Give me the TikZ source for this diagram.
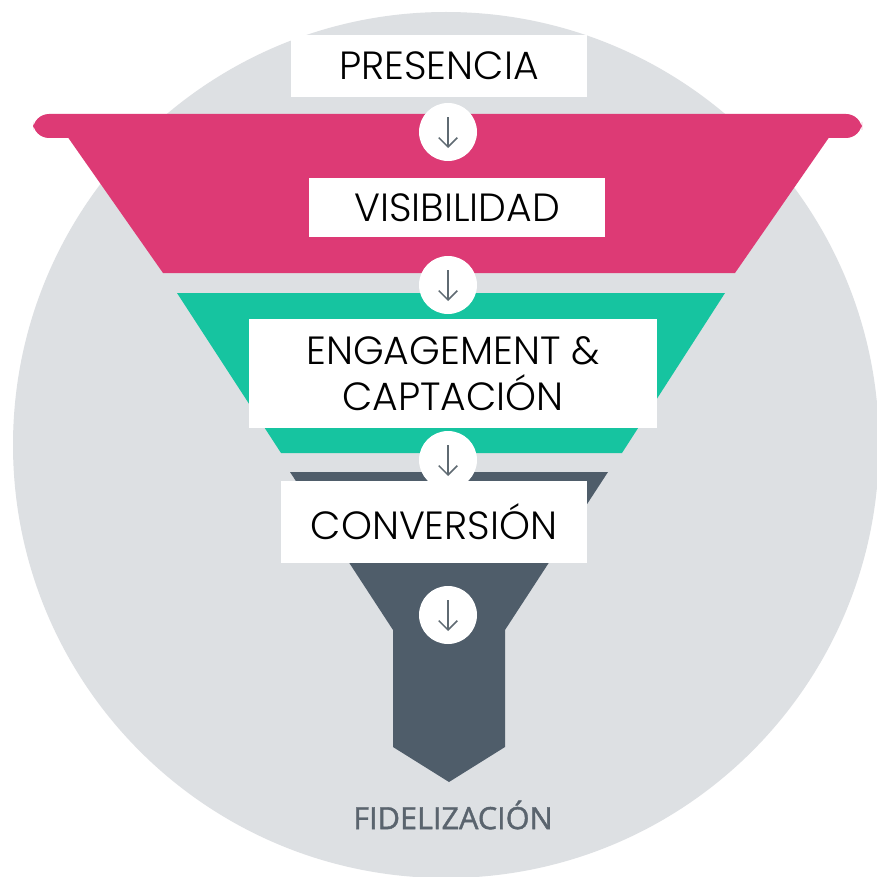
\documentclass[tikz,border=0pt]{standalone}
\usepackage{fontspec}
\setmainfont{Poppins}[UprightFont = * Light]
\newfontfamily\fidfont{Open Sans}[FakeBold=1.3]
\usetikzlibrary{arrows.meta}

\definecolor{fondo}{RGB}{221,224,227}
\definecolor{rosa}{RGB}{221,58,117}
\definecolor{verde}{RGB}{22,196,160}
\definecolor{pizarra}{RGB}{79,93,106}
\definecolor{flechagris}{RGB}{95,106,114}
\definecolor{textogris}{RGB}{90,100,110}

\tikzset{
  etapa/.style={fill=white, inner sep=0pt, align=center, font=\fontsize{29.5}{34.5}\selectfont},
  paso/.style={circle, fill=white, inner sep=0pt, minimum size=43.5pt},
  flecha/.style={flechagris, line width=1.1pt, -{Straight Barb[length=7pt, width=14pt]}}
}

\begin{document}
\begin{tikzpicture}[x=0.75pt, y=-0.75pt]
  % lienzo y disco de fondo
  \fill[white] (0,0) rectangle (876,877);
  \useasboundingbox (0,0) rectangle (876,877);
  \fill[fondo] (446,445) circle (433);

  % embudo
  \fill[rosa, rounded corners=12] (33,114) rectangle (862,138);
  \fill[rosa] (67,136) -- (830,136) -- (735,273) -- (163,273) -- cycle;
  \fill[verde] (177,293) -- (725,293) -- (622,453) -- (281,453) -- cycle;
  \fill[pizarra] (290,472) -- (608,472) -- (505,630) -- (505,747)
    -- (449,782) -- (393,747) -- (393,630) -- cycle;

  % pasos con flecha
  \foreach \n / \y in {p1/132, p2/285, p3/460, p4/615} {
    \node[paso] (\n) at (448,\y) {};
    \draw[flecha] ([yshift=11pt]\n.center) -- ([yshift=-12pt]\n.center);
  }

  % etapas
  \foreach \n / \x / \y / \w / \h / \txt in {
      presencia/439/66/222/46/PRESENCIA,
      visibilidad/457/207.5/222/44/VISIBILIDAD,
      engagement/453/373.5/306/82/{ENGAGEMENT \&\\CAPTACIÓN},
      conversion/434/522/230/61.5/CONVERSIÓN} {
    \node[etapa, minimum width=\w pt, minimum height=\h pt] (\n) at (\x,\y) {\txt};
  }

  \node[font=\fidfont\fontsize{23}{27}\selectfont, text=textogris] (fidelizacion) at (453,815) {FIDELIZACIÓN};
\end{tikzpicture}
\end{document}
